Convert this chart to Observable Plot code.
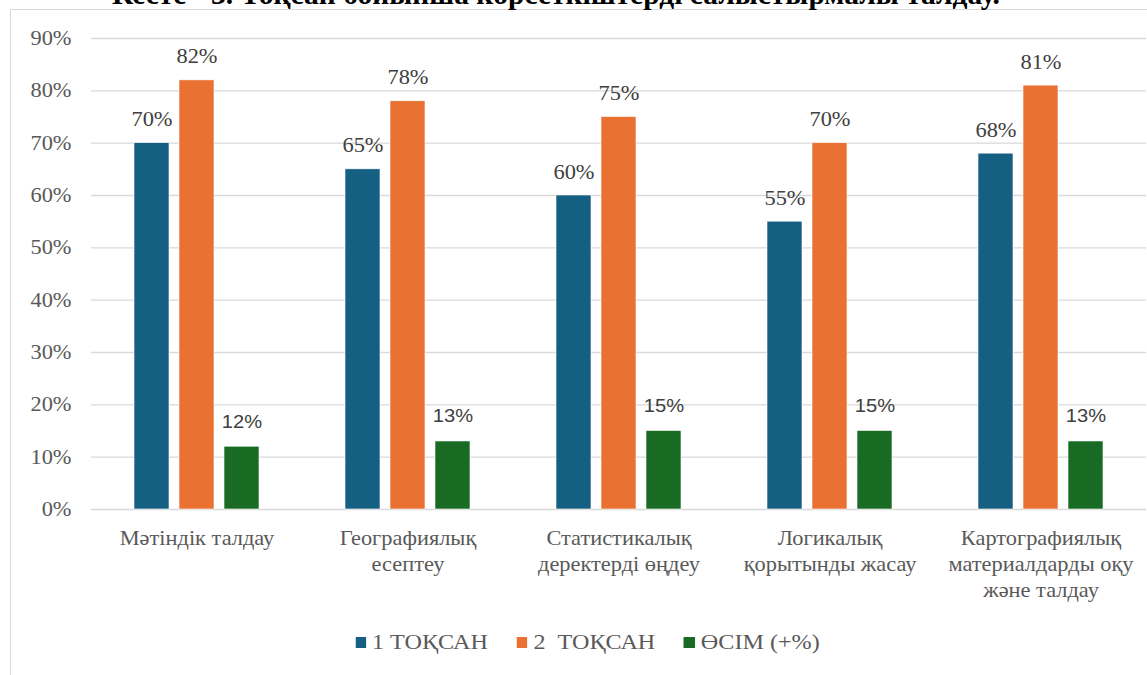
<!DOCTYPE html>
<html>
<head>
<meta charset="utf-8">
<script src="https://cdn.jsdelivr.net/npm/d3@7"></script>
<script src="https://cdn.jsdelivr.net/npm/@observablehq/plot@0.6"></script>
<style>
  html, body { margin: 0; padding: 0; background: #fff; width: 1147px; height: 675px; overflow: hidden; position: relative; }
  #title { position: absolute; top: -20px; left: 0; width: 1112px; text-align: center; font-family: "Liberation Serif", "Times New Roman", serif; font-weight: bold; font-size: 29.5px; line-height: 28px; color: #000; white-space: nowrap; }
  #frame { position: absolute; left: 10px; top: 9px; width: 1150px; height: 680px; border: 1px solid #d9d9d9; box-sizing: border-box; background: #fff; }
  #legend { position: absolute; top: 630px; left: 0; width: 1147px; display: flex; justify-content: center; font-family: "Liberation Serif", "Times New Roman", serif; font-size: 21px; color: #595959; transform: translateX(14px) scaleX(1.15); transform-origin: 573.5px 0; }
  #legend .item { display: flex; align-items: center; white-space: pre; margin-right: 25px; }
  #legend .item:last-child { margin-right: 0; }
  #legend .sw { width: 9.6px; height: 11px; margin-right: 5px; display: inline-block; }
  #chart { position: absolute; left: 11px; top: 13px; }
  #chart svg text { font-family: "Liberation Serif", "Times New Roman", serif !important; }
  #chart svg g[aria-description="growth-labels"] text { font-family: "Liberation Sans", Arial, sans-serif !important; }
</style>
</head>
<body>
<div id="frame"></div>
<div id="title">Кесте - 3. Тоқсан бойынша көрсеткіштерді салыстырмалы талдау.</div>
<div id="chart"></div>
<div id="legend"></div>
<script>
const categories = [
  "Мәтіндік талдау",
  "Географиялық\nесептеу",
  "Статистикалық\nдеректерді өңдеу",
  "Логикалық\nқорытынды жасау",
  "Картографиялық\nматериалдарды оқу\nжәне талдау"
];
const series = ["1 ТОҚСАН", "2  ТОҚСАН", "ӨСІМ (+%)"];
const quarter1 = [70, 65, 60, 55, 68];
const quarter2 = [82, 78, 75, 70, 81];
const growth = [12, 13, 15, 15, 13];
const yTicks = [0, 10, 20, 30, 40, 50, 60, 70, 80, 90];
const colors = ["#156082", "#E97132", "#196B24"];

const valuesBySeries = [quarter1, quarter2, growth];
const rows = [];
categories.forEach((c, i) => {
  series.forEach((s, j) => rows.push({category: c, series: s, value: valuesBySeries[j][i]}));
});

const chart = Plot.plot({
  width: 1136,
  height: 596,
  marginLeft: 79,
  marginRight: 0,
  marginTop: 25,
  marginBottom: 100,
  style: {fontSize: "20px", color: "#595959", background: "transparent", overflow: "visible"},
  fx: {domain: categories, padding: 0, label: null},
  x: {domain: series, paddingInner: 0.217, paddingOuter: 0.902, axis: null},
  y: {domain: [0, 90], label: null},
  color: {domain: series, range: colors},
  marks: [
    Plot.gridY(yTicks, {stroke: "#d9d9d9", strokeOpacity: 1, strokeWidth: 1.4}),
    Plot.axisY(yTicks, {tickSize: 0, tickPadding: 20, tickFormat: d => d + "%", label: null, fontSize: 20, fill: "#595959"}),
    Plot.barY(rows, {fx: "category", x: "series", y: "value", fill: "series", stroke: "#ffffff", strokeWidth: 0.6}),
    Plot.text(rows.filter(d => d.series !== series[2]), {fx: "category", x: "series", y: "value", text: d => d.value + "%", lineAnchor: "bottom", dy: -17, fontSize: 20, fill: "#404040"}),
    Plot.text(rows.filter(d => d.series === series[2]), {fx: "category", x: "series", y: "value", text: d => d.value + "%", lineAnchor: "bottom", dy: -19, fontSize: 18, fill: "#404040", ariaDescription: "growth-labels"}),
    Plot.axisFx({anchor: "bottom", tickSize: 0, tickPadding: 17, label: null, fontSize: 20, lineHeight: 1.3, fill: "#595959"})
  ]
});

// Horizontal stretch of the text, as in the reference rendering
d3.select(chart).selectAll("text").each(function() {
  const el = d3.select(this);
  const t = el.attr("transform") || "";
  const xa = el.attr("x");
  let shift = "";
  if (xa != null && /^-?[\d.]+$/.test(xa.trim())) {
    shift = ` translate(${+xa},0)`;
    el.attr("x", null);
  }
  el.attr("transform", `${t}${shift} scale(1.12,1)`);
});
document.getElementById("chart").appendChild(chart);

const legend = document.getElementById("legend");
series.forEach((s, i) => {
  const item = document.createElement("div");
  item.className = "item";
  const sw = document.createElement("span");
  sw.className = "sw";
  sw.style.background = colors[i];
  item.appendChild(sw);
  item.appendChild(document.createTextNode(s));
  legend.appendChild(item);
});
</script>
</body>
</html>
